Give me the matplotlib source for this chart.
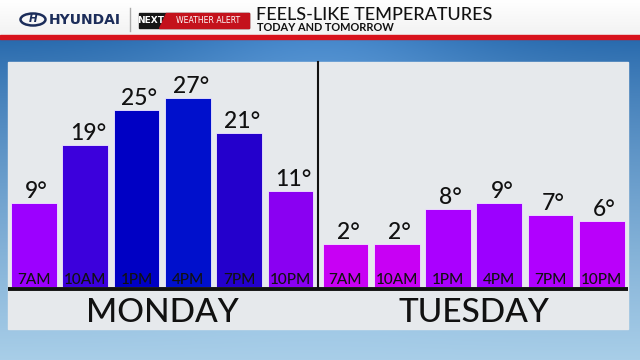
import matplotlib
matplotlib.use('Agg')
import matplotlib.pyplot as plt
import matplotlib.patches as mpatches
import numpy as np

plt.rcParams['font.family'] = ['Lato', 'DejaVu Sans']

days = ["MONDAY", "TUESDAY"]
hours = ["7AM", "10AM", "1PM", "4PM", "7PM", "10PM"]
monday = [9, 19, 25, 27, 21, 11]
tuesday = [2, 2, 8, 9, 7, 6]
monday_colors = ["#9c00ff", "#3c00dc", "#0000c4", "#0010cc", "#2400cc", "#8a00f2"]
tuesday_colors = ["#c800f4", "#c800f4", "#aa00ff", "#9c00ff", "#b000ff", "#ba00fa"]

W, H = 640, 360
fig = plt.figure(figsize=(6.4, 3.6), dpi=100)

# background layer in pixel coordinates
bg = fig.add_axes([0, 0, 1, 1], zorder=0)
bg.set_xlim(0, W)
bg.set_ylim(H, 0)
bg.axis('off')

# sky gradient
top = np.array([0x26, 0x68, 0xac]) / 255
bot = np.array([0xa8, 0xce, 0xe8]) / 255
t = np.linspace(0, 1, 200)[:, None]
grad = top + (bot - top) * t ** 0.8
xs = np.linspace(-1, 1, 320)
lift = 0.12 * np.exp(-(xs / 0.5) ** 2)
img = np.clip(grad[:, None, :] + lift[None, :, None] * (1 - t[:, :, None]), 0, 1)
bg.imshow(img, extent=(0, W, H, 38), aspect='auto', zorder=0)

# header band
hdr = np.linspace(1.0, 0.95, 50)[:, None, None] * np.ones((50, 2, 3))
bg.imshow(hdr, extent=(0, W, 35, 0), aspect='auto', zorder=1)
bg.add_patch(mpatches.Rectangle((0, 35), W, 4, color="#d8121c", zorder=2))

# hyundai logo
bg.add_patch(mpatches.Ellipse((33, 19.5), 25, 12, fill=False, ec="#1c2d5a", lw=1.8, zorder=3))
bg.text(33, 19.5, "H", fontsize=7.5, fontweight='bold', style='italic', color="#1c2d5a",
        ha='center', va='center', family='DejaVu Sans', zorder=3)
bg.text(49, 19.5, "HYUNDAI", fontsize=10, fontweight='bold', color="#1c2d5a",
        ha='left', va='center', family='DejaVu Sans', zorder=3)
bg.plot([130, 130], [8, 31], color="#aaaaaa", lw=1, zorder=3)

# next weather alert badge
bg.add_patch(mpatches.Rectangle((139, 13), 110, 15, color="#161616", zorder=3))
bg.add_patch(mpatches.Polygon([(166, 13), (249, 13), (249, 28), (159, 28)], color="#c4121c", zorder=4))
bg.text(151, 20.5, "NEXT", fontsize=6.5, fontweight='bold', color="white",
        ha='center', va='center', family='DejaVu Sans', zorder=5)
bg.text(208, 20.5, "WEATHER ALERT", fontsize=5.6, color="white",
        ha='center', va='center', family='DejaVu Sans', zorder=5)

bg.text(256, 19.8, "FEELS-LIKE TEMPERATURES", fontsize=13, fontweight='medium',
        color="#111111", ha='left', va='baseline', zorder=3)
bg.text(257, 31.4, "TODAY AND TOMORROW", fontsize=7.9, fontweight='bold',
        color="#111111", ha='left', va='baseline', zorder=3)

# light panel
bg.add_patch(mpatches.Rectangle((8, 62), 620, 267, color="#e6e9ec", zorder=3))

# bar chart axes
base = -5.4
gap = 1.07
px_left, px_right, px_top, px_bot = 8, 628, 62, 287
x_mon = np.arange(len(hours))
x_tue = x_mon + len(hours) + gap - 1
unit = 51.3
c0 = 34
ax = fig.add_axes([px_left / W, 1 - px_bot / H, (px_right - px_left) / W, (px_bot - px_top) / H],
                  zorder=2)
ax.set_xlim((px_left - c0) / unit, (px_right - c0) / unit)
ax.set_ylim(base, base + (px_bot - px_top) / 5.83)
ax.axis('off')
ax.patch.set_alpha(0)

for xpos, vals, cols in [(x_mon, monday, monday_colors), (x_tue, tuesday, tuesday_colors)]:
    heights = [v - base for v in vals]
    ax.bar(xpos, heights, bottom=base, width=0.89, color=cols, edgecolor="#f0e8ff",
           linewidth=0.6, zorder=2)
    for x, v, h in zip(xpos, vals, hours):
        ax.annotate(f"{v}°", (x, v), xytext=(2, 3.6), textcoords="offset points",
                    ha='center', va='baseline', fontsize=16.5, fontweight='medium',
                    color="#111111")
        ax.annotate(h, (x, base), xytext=(0, 2.3), textcoords="offset points",
                    ha='center', va='baseline', fontsize=11, fontweight='medium',
                    color="#111111")

# baseline and divider
ax.plot(ax.get_xlim(), [base - 0.33, base - 0.33], color="#111111", lw=2.8,
        clip_on=False, zorder=3, solid_capstyle='butt')
div = (x_mon[-1] + x_tue[0]) / 2
ax.plot([div, div], [base, ax.get_ylim()[1]], color="#111111", lw=1.5, clip_on=False, zorder=3)

# day labels
for xpos, d in [(x_mon, days[0]), (x_tue, days[1])]:
    ax.annotate(d, (xpos.mean(), base), xytext=(0, -25.2), textcoords="offset points",
                ha='center', va='baseline', fontsize=24, fontweight='medium',
                color="#111111")

plt.savefig("out.png", dpi=100)
